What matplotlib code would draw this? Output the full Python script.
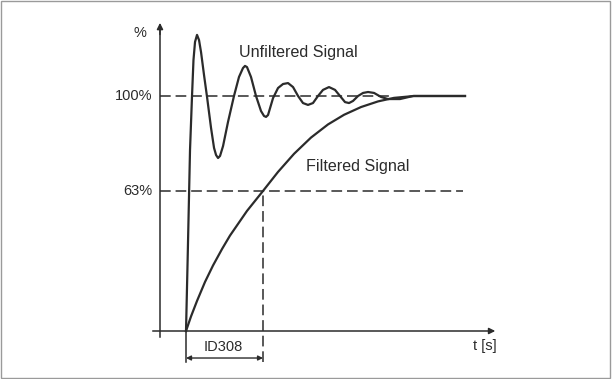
import numpy as np
import matplotlib
matplotlib.use("Agg")
import matplotlib.pyplot as plt
from matplotlib.patches import Rectangle

plt.rcParams["font.family"] = ["Liberation Sans", "DejaVu Sans"]

# time in units of the filter time constant (ID308), level in % of the final value
t_unfilt = [0.0, 0.021, 0.052, 0.078, 0.097, 0.117, 0.143, 0.169, 0.195, 0.234,
            0.273, 0.325, 0.364, 0.390, 0.416, 0.442, 0.481, 0.545, 0.623, 0.688,
            0.740, 0.766, 0.792, 0.844, 0.909, 0.974, 1.013, 1.039, 1.065, 1.130,
            1.195, 1.260, 1.325, 1.390, 1.455, 1.519, 1.584, 1.649, 1.714, 1.779,
            1.857, 1.935, 2.000, 2.065, 2.117, 2.169, 2.234, 2.299, 2.364, 2.442,
            2.532, 2.623, 2.779, 2.948, 3.623]
y_unfilt = [0.0, 30.2, 77.0, 100.0, 115.3, 123.0, 126.0, 123.8, 118.7, 108.9,
            99.6, 86.4, 77.9, 74.9, 73.6, 74.5, 78.7, 88.9, 100.0, 108.1,
            111.9, 112.8, 112.3, 108.1, 100.0, 93.6, 91.5, 91.1, 91.9, 99.1,
            103.4, 105.1, 105.5, 103.8, 100.0, 97.0, 96.2, 97.0, 100.0, 102.6,
            103.8, 102.6, 100.0, 97.4, 97.0, 97.9, 100.0, 101.3, 101.7, 101.3,
            99.6, 98.7, 98.7, 100.0, 100.0]

t_filt = [0.0, 0.065, 0.143, 0.247, 0.351, 0.468, 0.571, 0.792, 1.0, 1.195,
          1.403, 1.623, 1.844, 2.052, 2.273, 2.494, 2.701, 2.961, 3.623]
y_filt = [0.0, 6.2, 12.8, 20.9, 27.9, 34.9, 40.6, 51.1, 59.6, 67.7,
          75.4, 82.3, 87.9, 92.0, 95.3, 97.7, 99.2, 100.0, 100.0]

level_100 = 100.0
level_63 = 59.6          # drawn position of the 63 % mark
t_id308 = 1.0
level_labels = ["100%", "63%"]

LINE = "#2b2b2b"

fig = plt.figure(figsize=(6.12, 3.79), dpi=100)
ax = fig.add_axes([0, 0, 1, 1])
ax.set_xlim(-2.4156, 5.532)
ax.set_ylim(-20.43, 140.85)
ax.axis("off")

# axes with arrow heads
y_axis_t = -0.338
ax.plot([y_axis_t, y_axis_t], [-2.6, 128], color=LINE, lw=1.1)
ax.annotate("", xy=(y_axis_t, 132.3), xytext=(y_axis_t, 125),
            arrowprops=dict(arrowstyle="-|>", color=LINE, lw=1.1, mutation_scale=9))
ax.plot([-0.43, 3.95], [0, 0], color=LINE, lw=1.1)
ax.annotate("", xy=(4.052, 0), xytext=(3.9, 0),
            arrowprops=dict(arrowstyle="-|>", color=LINE, lw=1.1, mutation_scale=9))

# reference levels
dash = dict(color=LINE, lw=1.1, dashes=(7, 3.2))
ax.plot([y_axis_t, 2.65], [level_100, level_100], **dash)
ax.plot([y_axis_t, 3.597], [level_63, level_63], **dash)
ax.plot([t_id308, t_id308], [-13.2, level_63], **dash)
ax.plot([0, 0], [-13.2, 0], color=LINE, lw=1.1)

# signals
ax.plot(t_unfilt, y_unfilt, color=LINE, lw=1.6, solid_joinstyle="round")
ax.plot(t_filt, y_filt, color=LINE, lw=1.6, solid_joinstyle="round")

# ID308 bracket
ax.annotate("", xy=(0, -11.5), xytext=(t_id308, -11.5),
            arrowprops=dict(arrowstyle="<|-|>", color=LINE, lw=1.0,
                            mutation_scale=7, shrinkA=0, shrinkB=0))

fs = 10.5
ax.text(0.48, -6.8, "ID308", ha="center", va="center", fontsize=fs, color=LINE)
ax.text(4.039, -6.4, "t [s]", ha="right", va="center", fontsize=fs, color=LINE)
ax.text(-0.597, 126.8, "%", ha="center", va="center", fontsize=fs, color=LINE)
ax.text(-0.44, level_100, level_labels[0], ha="right", va="center", fontsize=fs, color=LINE)
ax.text(-0.44, level_63, level_labels[1], ha="right", va="center", fontsize=fs, color=LINE)
ax.text(0.688, 118.7, "Unfiltered Signal", ha="left", va="center", fontsize=11.6, color=LINE)
ax.text(1.558, 70.2, "Filtered Signal", ha="left", va="center", fontsize=11.6, color=LINE)

# thin frame round the picture
fig.patches.append(Rectangle((0.001, 0.003), 0.996, 0.995, transform=fig.transFigure,
                             fill=False, edgecolor="#9a9a9a", lw=1.0))

fig.savefig("out.png", dpi=100, facecolor="white")
